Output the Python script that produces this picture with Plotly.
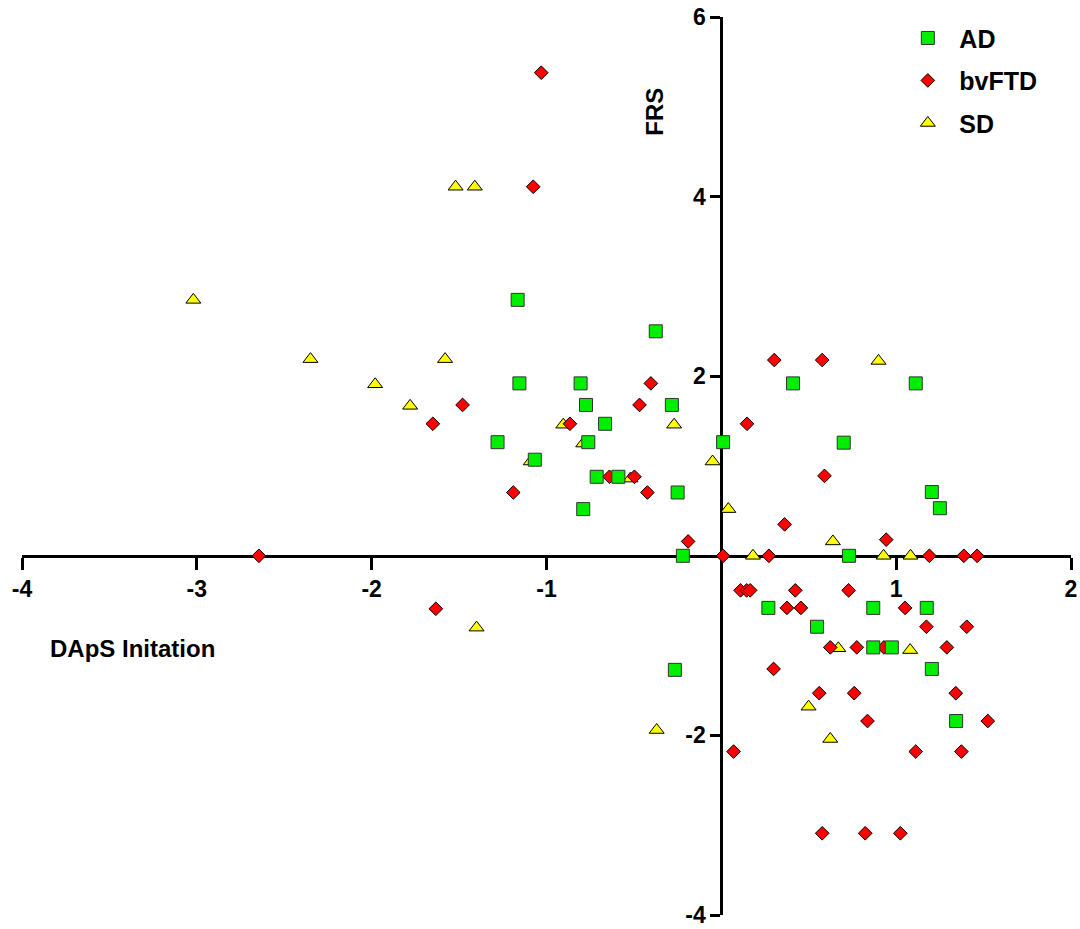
import plotly.graph_objects as go

# ---- data ----
ad_x = [-1.165, -0.375, -1.155, -0.805, 0.41, 1.112, -0.774, -0.283, -0.665, -1.28,
        -0.761, 0.01, 0.70, -1.067, -0.713, -0.589, -0.25, 1.204, -0.79, 1.25,
        -0.22, 0.73, 0.269, 0.869, 1.175, 0.547, 0.869, 0.975, 1.204, -0.266, 1.343]
ad_y = [2.85, 2.50, 1.92, 1.92, 1.92, 1.92, 1.68, 1.68, 1.47, 1.265,
        1.265, 1.265, 1.26, 1.07, 0.88, 0.88, 0.705, 0.71, 0.52, 0.53,
        0.0, 0.0, -0.58, -0.58, -0.58, -0.79, -1.02, -1.02, -1.26, -1.27, -1.84]

ftd_x = [-1.03, -1.076, -0.403, -1.48, -0.468, -1.65, -0.866, 0.147, 0.303, 0.577,
         -0.64, -0.497, 0.59, -1.19, -0.423, 0.362, -0.19, 0.943, -2.645, 0.01,
         0.272, 1.19, 1.387, 1.463, -1.633, 0.11, 0.145, 0.165, 0.423, 0.728,
         0.375, 0.455, 1.051, 1.173, 1.404, 0.623, 0.775, 0.93, 1.29, 0.299,
         0.56, 0.76, 1.341, 0.836, 1.524, 0.07, 1.112, 1.373, 0.577, 0.823, 1.024]
ftd_y = [5.38, 4.11, 1.92, 1.68, 1.68, 1.47, 1.47, 1.47, 2.18, 2.18,
         0.88, 0.88, 0.89, 0.705, 0.705, 0.35, 0.16, 0.18, 0.0, 0.0,
         0.0, 0.0, 0.0, 0.0, -0.59, -0.385, -0.385, -0.385, -0.385, -0.385,
         -0.58, -0.58, -0.58, -0.79, -0.79, -1.02, -1.02, -1.02, -1.02, -1.26,
         -1.53, -1.53, -1.53, -1.84, -1.84, -2.18, -2.18, -2.18, -3.09, -3.09, -3.09]

sd_x = [-1.52, -1.41, -3.02, -2.35, -1.58, 0.899, -1.98, -1.78, -0.904, -0.27,
        -0.79, -0.05, -1.09, -0.52, 0.04, 0.638, 0.181, 0.928, 1.082, -1.40,
        0.669, 1.08, 0.499, -0.37, 0.623]
sd_y = [4.11, 4.11, 2.85, 2.19, 2.19, 2.17, 1.91, 1.67, 1.46, 1.46,
        1.25, 1.05, 1.05, 0.86, 0.52, 0.16, 0.0, 0.0, 0.0, -0.80,
        -1.03, -1.05, -1.68, -1.94, -2.04]

x_range = [-4, 2]
y_range = [-4, 6]
x_ticks = [-4, -3, -2, -1, 1, 2]
y_ticks = [-4, -2, 2, 4, 6]
x_title = "DApS Initation"
y_title = "FRS"

FONT = "Liberation Sans, Arial, sans-serif"

fig = go.Figure()
fig.add_trace(go.Scatter(x=sd_x, y=sd_y, mode="markers", name="SD",
                         legendrank=3, legendgroup="sd",
                         marker=dict(symbol="triangle-up", size=13, color="#FFFF00",
                                     line=dict(color="black", width=1))))
fig.add_trace(go.Scatter(x=ftd_x, y=ftd_y, mode="markers", name="bvFTD",
                         legendrank=2, legendgroup="ftd",
                         marker=dict(symbol="diamond", size=10.5, color="#FF0000",
                                     line=dict(color="black", width=1))))
fig.add_trace(go.Scatter(x=ad_x, y=ad_y, mode="markers", name="AD",
                         legendrank=1, legendgroup="ad",
                         marker=dict(symbol="square", size=13, color="#00EE00",
                                     line=dict(color="#333333", width=1))))

xpos = (0 - y_range[0]) / (y_range[1] - y_range[0])
ypos = (0 - x_range[0]) / (x_range[1] - x_range[0])

fig.update_layout(
    width=1080, height=929,
    margin=dict(l=22, r=9, t=17, b=14, autoexpand=False),
    plot_bgcolor="white", paper_bgcolor="white",
    font=dict(family=FONT, size=22, color="black"),
    showlegend=True,
    legend=dict(x=0.8335, y=1.002, xanchor="left", yanchor="top",
                traceorder="grouped", tracegroupgap=7,
                font=dict(family=FONT, size=25, color="black", weight="bold"),
                bgcolor="rgba(0,0,0,0)", itemwidth=53),
    xaxis=dict(range=x_range, anchor="free", position=xpos, automargin=False,
               showline=True, linecolor="black", linewidth=3,
               ticks="outside", tickwidth=3, ticklen=12, tickcolor="black",
               tickvals=x_ticks, ticktext=[str(v) for v in x_ticks],
               tickfont=dict(family=FONT, size=23, weight="bold"),
               showgrid=False, zeroline=False, layer="below traces"),
    yaxis=dict(range=y_range, anchor="free", position=ypos, automargin=False,
               showline=True, linecolor="black", linewidth=3,
               ticks="outside", tickwidth=3, ticklen=10, tickcolor="black",
               tickvals=y_ticks, ticktext=[str(v) for v in y_ticks],
               tickfont=dict(family=FONT, size=23, weight="bold"),
               showgrid=False, zeroline=False, layer="below traces"),
    annotations=[
        dict(text=x_title, x=0.105, y=0.297, xref="paper", yref="paper",
             xanchor="center", yanchor="middle",
             showarrow=False, font=dict(family=FONT, size=24, weight="bold")),
        dict(text=y_title, x=0.603, y=0.894, xref="paper", yref="paper",
             xanchor="center", yanchor="middle",
             showarrow=False, textangle=-90,
             font=dict(family=FONT, size=24, weight="bold")),
    ],
)

fig.write_html("out.html")
